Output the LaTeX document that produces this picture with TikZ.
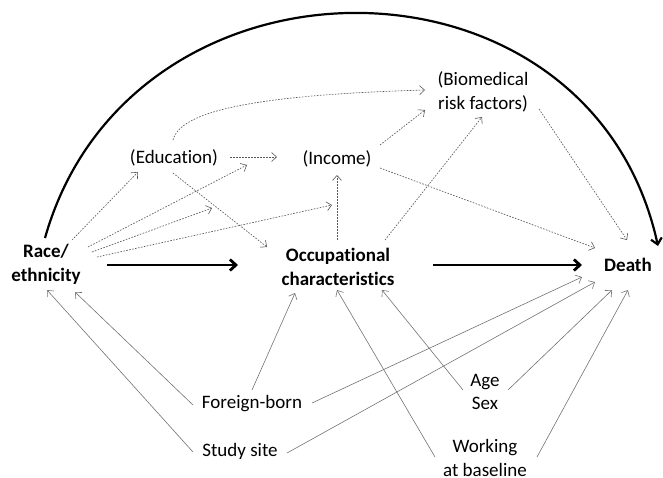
\documentclass[tikz,border=0pt]{standalone}
\usepackage{fontspec}
\setmainfont{Carlito}[Ligatures={NoCommon}]
\usetikzlibrary{arrows.meta}
\begin{document}
\begin{tikzpicture}[x=1pt,y=-1pt,
  lbl/.style={inner sep=0pt,outer sep=0pt,align=center,font=\fontsize{19}{23.5}\selectfont},
  blbl/.style={lbl,font=\fontsize{19}{24}\selectfont\bfseries},
  dotarr/.style={draw=black!65,line width=0.65pt,dash pattern=on 1.6pt off 1.4pt,-{Straight Barb[length=5pt,width=9pt,line width=0.6pt]}},
  thinarr/.style={draw=black!55,line width=0.6pt,-{Straight Barb[length=5pt,width=9pt,line width=0.6pt]}},
  thickarr/.style={draw=black,line width=2.8pt,-{Straight Barb[length=6pt,width=11pt,line width=2.8pt]}},
  arcarr/.style={draw=black,line width=2.2pt,-{Straight Barb[length=6pt,width=11pt,line width=2.2pt]}}]
\useasboundingbox (0,0) rectangle (663,477);
% nodes
\node[blbl] (race) at (46,264) {Race/\\ethnicity};
\node[blbl] (occ) at (338,267) {Occupational\\characteristics};
\node[blbl] (death) at (628,265) {Death};
\node[lbl] (edu) at (174,158) {(Education)};
\node[lbl] (inc) at (337,159) {(Income)};
\node[lbl] (bio) at (483,92) {(Biomedical\\risk factors)};
\node[lbl] (fb) at (252,404) {Foreign-born};
\node[lbl] (ss) at (240,451) {Study site};
\node[lbl] (age) at (485,392) {Age\\Sex};
\node[lbl] (work) at (485,458) {Working\\at baseline};
% free ends of arrows that point at arrows
\coordinate (m1) at (247,165);
\coordinate (m2) at (212,208);
\coordinate (m3) at (332,205);
% dotted arrows
\draw[dotarr] ([shift={(26,-24)}]race.center) -- ([shift={(-36,14)}]edu.center);
\draw[dotarr] ([shift={(42,-17)}]race.center) -- (m1);
\draw[dotarr] ([shift={(46,-12)}]race.center) -- (m2);
\draw[dotarr] ([shift={(51,-7)}]race.center) -- (m3);
\draw[dotarr] ([shift={(56,-1)}]edu.center) -- ([shift={(-60,-2)}]inc.center);
\draw[dotarr] ([shift={(-1,15)}]edu.center) -- ([shift={(-71,-20)}]occ.center);
\draw[dotarr] ([shift={(-1,-18)}]edu.center) .. controls (180,112) and (250,95) .. ([shift={(-58,-2)}]bio.center);
\draw[dotarr] ([shift={(43,-14)}]inc.center) -- ([shift={(-58,18)}]bio.center);
\draw[dotarr] ([shift={(43,9)}]inc.center) -- ([shift={(-33,-17)}]death.center);
\draw[dotarr] ([shift={(-1,-27)}]occ.center) -- ([shift={(0,16)}]inc.center);
\draw[dotarr] ([shift={(47,-27)}]occ.center) -- ([shift={(-1,25)}]bio.center);
\draw[dotarr] ([shift={(56,17)}]bio.center) -- ([shift={(-1,-25)}]death.center);
% thick arrows
\draw[thickarr] ([shift={(61,1)}]race.center) -- ([shift={(-100,-2)}]occ.center);
\draw[thickarr] ([shift={(95,-2)}]occ.center) -- ([shift={(-46,0)}]death.center);
\draw[arcarr] ([shift={(-1,-26)}]race.center) .. controls (130,-63) and (590,-63) .. ([shift={(30,-19)}]death.center);
% thin solid arrows
\draw[thinarr] ([shift={(-59,1)}]fb.center) -- ([shift={(29,28)}]race.center);
\draw[thinarr] ([shift={(-47,1)}]ss.center) -- ([shift={(1,26)}]race.center);
\draw[thinarr] ([shift={(0,-14)}]fb.center) -- ([shift={(-43,26)}]occ.center);
\draw[thinarr] ([shift={(60,-1)}]fb.center) -- ([shift={(-46,12)}]death.center);
\draw[thinarr] ([shift={(47,2)}]ss.center) -- ([shift={(-33,17)}]death.center);
\draw[thinarr] ([shift={(-50,-1)}]work.center) -- ([shift={(-1,23)}]occ.center);
\draw[thinarr] ([shift={(-22,-2)}]age.center) -- ([shift={(44,23)}]occ.center);
\draw[thinarr] ([shift={(23,-2)}]age.center) -- ([shift={(-16,25)}]death.center);
\draw[thinarr] ([shift={(52,-1)}]work.center) -- ([shift={(0,25)}]death.center);
\end{tikzpicture}
\end{document}
